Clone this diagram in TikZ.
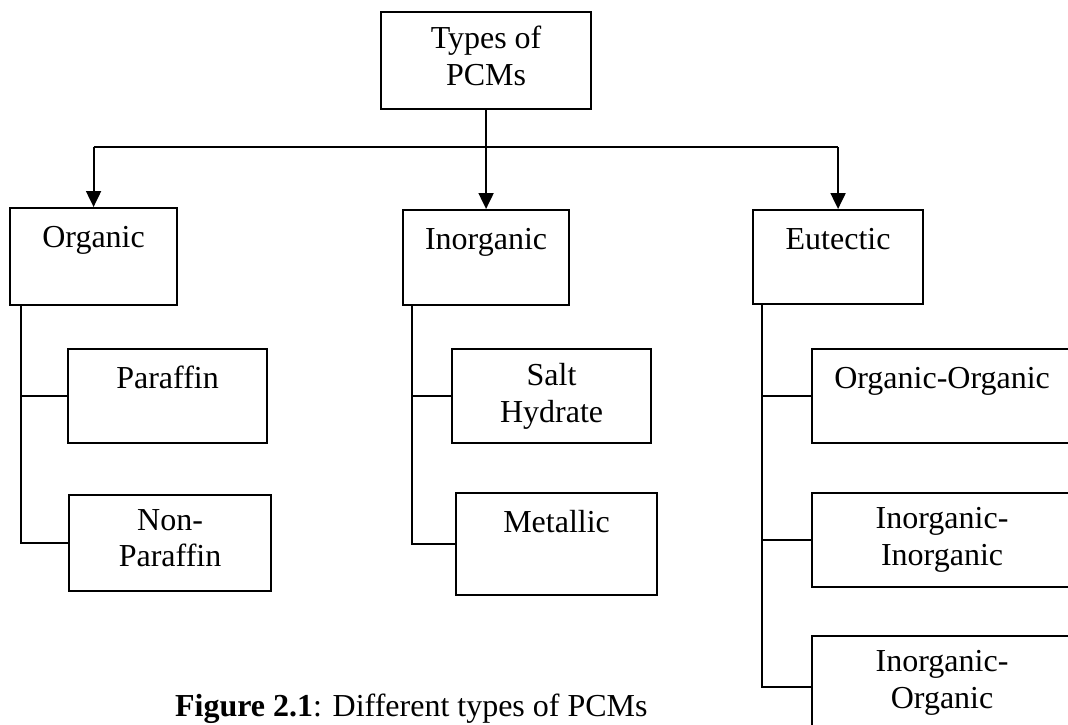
\documentclass[tikz,border=0pt]{standalone}
\usepackage{fontspec}
\setmainfont{Liberation Serif}
\usetikzlibrary{positioning,arrows.meta}

\begin{document}
\begin{tikzpicture}[x=0.375pt, y=-0.375pt, line width=0.8pt,
  box/.style={draw, anchor=north west, inner sep=0pt},
  lbl/.style={align=center, inner sep=0pt, font=\fontsize{12}{13.8}\selectfont, execute at begin node=\strut},
  arr/.style={-{Triangle[width=5.6pt,length=6pt]}}]
\def\px{0.375pt}
\def\dy{5.3pt}
\useasboundingbox (0,0) rectangle (1068,724);
\clip (0,0) rectangle (1068,724);

\node[box, minimum width=210*\px, minimum height=97*\px] (top) at (380,11) {};
\node[lbl, below=\dy of top.north] (topt) {Types of\\PCMs};

\node[box, minimum width=167*\px, minimum height=97*\px] (org) at (9,207) {};
\node[lbl, below=\dy of org.north] (orgt) {Organic};
\node[box, minimum width=166*\px, minimum height=95*\px] (inorg) at (402,209) {};
\node[lbl, below=\dy of inorg.north] (inorgt) {Inorganic};
\node[box, minimum width=170*\px, minimum height=94*\px] (eut) at (752,209) {};
\node[lbl, below=\dy of eut.north] (eutt) {Eutectic};

\node[box, minimum width=199*\px, minimum height=94*\px] (par) at (67,348) {};
\node[lbl, below=\dy of par.north] (part) {Paraffin};
\node[box, minimum width=202*\px, minimum height=96*\px] (npar) at (68,494) {};
\node[lbl, below=\dy of npar.north] (npart) {Non-\\Paraffin};

\node[box, minimum width=199*\px, minimum height=94*\px] (salt) at (451,348) {};
\node[lbl, below=\dy of salt.north] (saltt) {Salt\\Hydrate};
\node[box, minimum width=201*\px, minimum height=102*\px] (met) at (455,492) {};
\node[lbl, below=\dy of met.north] (mett) {Metallic};

\node[box, minimum width=260*\px, minimum height=94*\px] (oo) at (811,348) {};
\node[lbl, below=\dy of oo.north] (oot) {Organic-Organic};
\node[box, minimum width=260*\px, minimum height=94*\px] (ii) at (811,492) {};
\node[lbl, below=\dy of ii.north] (iit) {Inorganic-\\Inorganic};
\node[box, minimum width=260*\px, minimum height=102*\px] (io) at (811,635) {};
\node[lbl, below=\dy of io.north] (iot) {Inorganic-\\Organic};

\coordinate (bus) at (top.south |- 0,147);
\coordinate (busl) at (org.north |- 0,147);
\coordinate (busr) at (eut.north |- 0,147);
\draw (top) -- (bus);
\draw (busl) -- (busr);
\draw[arr] (busl) -- (org);
\draw[arr] (bus) -- (inorg);
\draw[arr] (busr) -- (eut);

\coordinate (oa) at ([xshift=12*\px]org.south west);
\coordinate (ia) at ([xshift=10*\px]inorg.south west);
\coordinate (ea) at ([xshift=10*\px]eut.south west);
\draw (oa) |- (par);
\draw (oa) |- (npar);
\draw (ia) |- (salt);
\draw (ia) |- (met);
\draw (ea) |- (oo);
\draw (ea) |- (ii);
\draw (ea) |- (io);

\node[anchor=base west, inner sep=0pt, font=\fontsize{12}{13.8}\selectfont] (cap) at (174,716) {\textbf{Figure 2.1}: Different types of PCMs};
\end{tikzpicture}
\end{document}
